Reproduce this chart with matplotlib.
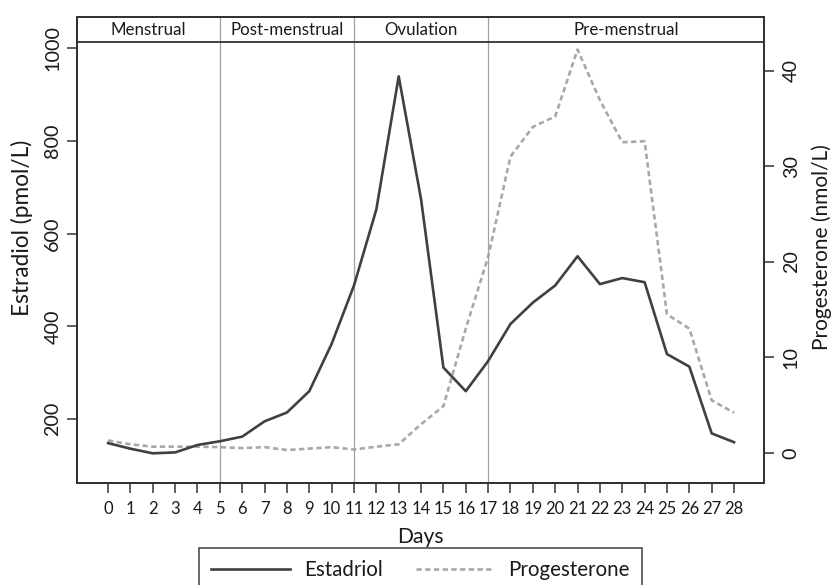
import numpy as np
import matplotlib
matplotlib.use("Agg")
import matplotlib.pyplot as plt

plt.rcParams["font.family"] = ["Lato", "DejaVu Sans"]

days = list(range(29))
estradiol = [148, 136, 126, 128, 144, 152, 162, 195, 214, 260, 362, 488, 652, 939,
             674, 311, 260, 325, 405, 451, 488, 551, 491, 504, 495, 340, 313, 169, 150]
progesterone = [1.3, 0.9, 0.65, 0.65, 0.65, 0.6, 0.5, 0.6, 0.3, 0.45, 0.6, 0.35, 0.65, 0.9,
                3.0, 4.9, 13.0, 20.5, 31.0, 34.1, 35.2, 42.2, 36.9, 32.5, 32.6, 14.5, 13.0,
                5.5, 4.2]
phase_names = ["Menstrual", "Post-menstrual", "Ovulation", "Pre-menstrual"]
phase_bounds = [5, 11, 17]

dark = "#404040"
light = "#a8a8a8"
txt = "#1a1a1a"

W, H = 832, 585
fig = plt.figure(figsize=(W / 100, H / 100), dpi=100)
ax = fig.add_axes([77 / W, 1 - 483 / H, (764 - 77) / W, (483 - 17) / H])
ax2 = ax.twinx()

xmin, xmax = -1.39, 29.34
ax.set_xlim(xmin, xmax)
ax.set_ylim(62, 1067)
ax2.set_ylim(-3.15, 45.6)

# phase separators and header band
for b in phase_bounds:
    ax.axvline(b, color="#a0a0a0", lw=0.9, zorder=1)
ax.axhline(1013, color="#333333", lw=1.3, zorder=3)
edges = [xmin] + phase_bounds + [xmax]
for i, name in enumerate(phase_names):
    ax.text((edges[i] + edges[i + 1]) / 2, 1040, name, ha="center", va="center",
            fontsize=12.2, color=txt)

l1, = ax.plot(days, estradiol, color=dark, lw=1.9, zorder=4, label="Estadriol")
l2, = ax2.plot(days, progesterone, color=light, lw=1.9, ls=(0, (2.0, 1.3)),
               label="Progesterone")
ax.set_zorder(ax2.get_zorder() + 1)
ax.patch.set_visible(False)

ax.set_xticks(days)
ax.set_yticks([200, 400, 600, 800, 1000])
ax2.set_yticks([0, 10, 20, 30, 40])
for a in (ax, ax2):
    for s in a.spines.values():
        s.set_color("#333333")
        s.set_linewidth(1.4)
    a.tick_params(length=7, width=1.1, color="#333333", labelcolor=txt)
ax.tick_params(axis="x", labelsize=12, pad=6)
ax.tick_params(axis="y", labelsize=14.2, pad=4.3)
ax2.tick_params(axis="y", labelsize=14.2, pad=6.5)
for lab in ax.get_yticklabels() + ax2.get_yticklabels():
    lab.set_rotation(90)
    lab.set_va("center")

fig.text(420 / W, 1 - 537 / H, "Days", ha="center", va="center", fontsize=15.2, color=txt)
fig.text(22 / W, 1 - 228 / H, "Estradiol (pmol/L)", ha="center", va="center",
         rotation=90, fontsize=16.3, color=txt)
fig.text(822 / W, 1 - 247 / H, "Progesterone (nmol/L)", ha="center", va="center",
         rotation=90, fontsize=15, color=txt)

leg = fig.legend([l1, l2], ["Estadriol", "Progesterone"], loc="upper center",
                 bbox_to_anchor=(420.5 / W, 1 - 548 / H), ncol=2, frameon=True,
                 fancybox=False, fontsize=14.8, handlelength=3.8, handletextpad=0.7,
                 columnspacing=1.6, borderaxespad=0, borderpad=0.6)
leg.get_frame().set_edgecolor("#222222")
leg.get_frame().set_linewidth(1.2)
for t in leg.get_texts():
    t.set_color(txt)

fig.savefig("out.png", dpi=100)
